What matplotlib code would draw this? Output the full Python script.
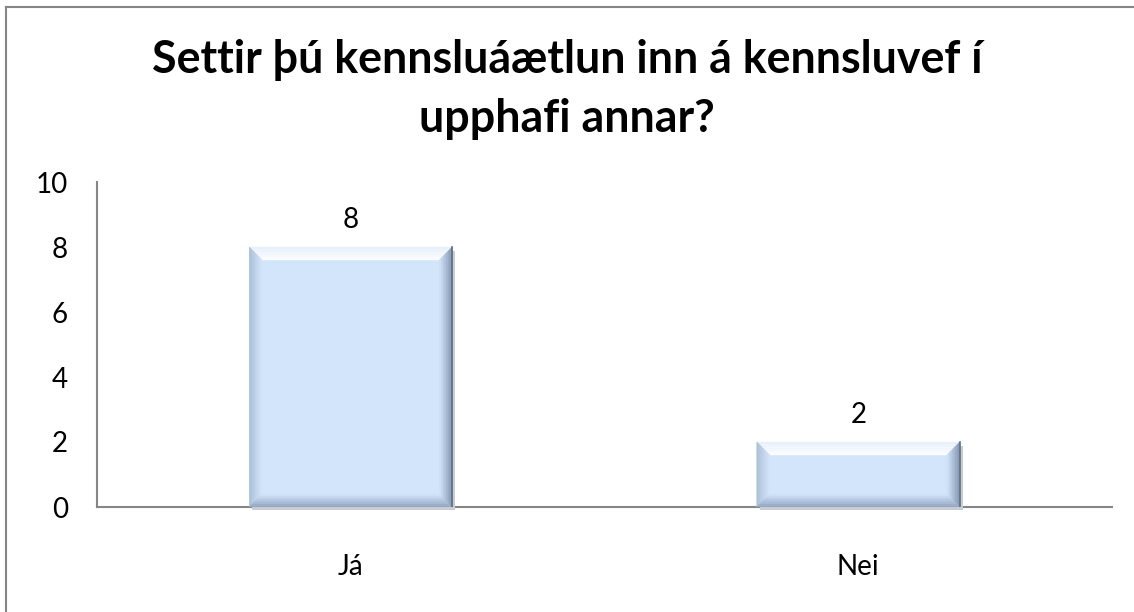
import matplotlib
matplotlib.use("Agg")
import matplotlib.pyplot as plt
from matplotlib.lines import Line2D
from matplotlib.patches import Polygon
from matplotlib.colors import to_rgb
import numpy as np

categories = ["Já", "Nei"]
values = [8, 2]
title_lines = ["Settir þú kennsluáætlun inn á kennsluvef í", "upphafi annar?"]

plt.rcParams['font.family'] = ['Lato', 'DejaVu Sans']

W, H = 1134, 612
fig = plt.figure(figsize=(W / 100, H / 100), dpi=100)

# outer chart frame: only top and left edges are inside the picture
frame = dict(color='#868686', linewidth=1.5, transform=fig.transFigure)
fig.add_artist(Line2D([6 / W, 1], [1 - 7 / H, 1 - 7 / H], **frame))
fig.add_artist(Line2D([6 / W, 6 / W], [0, 1 - 7 / H], **frame))

ax = fig.add_axes([97 / W, 105 / H, 1015 / W, 325 / H])
x = np.arange(len(categories))
bars = ax.bar(x, values, width=0.4, color='#D3E5FB', edgecolor='none', zorder=2)

ax.set_xlim(-0.5, len(categories) - 0.5)
ax.set_ylim(0, 10)
ax.set_yticks(range(0, 11, 2))
ax.set_xticks(x, categories)
ax.tick_params(axis='both', length=0, labelsize=20, colors='black')
ax.tick_params(axis='y', pad=21)
ax.tick_params(axis='x', pad=34)
for s in ['top', 'right']:
    ax.spines[s].set_visible(False)
for s in ['left', 'bottom']:
    ax.spines[s].set_color('#868686')
    ax.spines[s].set_linewidth(1.5)
    ax.spines[s].set_zorder(1)

# bevel shading: each band is a stack of thin trapezoids fading inward
px_x = len(categories) / 1015
px_y = 10.0 / 325


def band(outer, inner, c_out, c_in, n=8, z=3):
    c_out, c_in = np.array(to_rgb(c_out)), np.array(to_rgb(c_in))
    outer, inner = np.array(outer, float), np.array(inner, float)
    for i in range(n):
        t0, t1 = i / n, (i + 1) / n
        a = outer + (inner - outer) * t0
        b = outer + (inner - outer) * t1
        col = c_out + (c_in - c_out) * (t0 + t1) / 2
        ax.add_patch(Polygon([a[0], a[1], b[1], b[0]], closed=True,
                             facecolor=col, edgecolor=col, linewidth=0.3, zorder=z))


base = '#D3E5FB'
for r in bars:
    x0, y0 = r.get_x(), r.get_y()
    x1, y1 = x0 + r.get_width(), y0 + r.get_height()
    # soft drop shadow to the right and below
    ax.add_patch(Polygon([(x0 + 3 * px_x, y0 - 3 * px_y), (x1 + 3 * px_x, y0 - 3 * px_y),
                          (x1 + 3 * px_x, y1 - 4 * px_y), (x1, y1 - 4 * px_y),
                          (x1, y0), (x0 + 3 * px_x, y0)],
                         closed=True, facecolor='#C9CCD1', edgecolor='none',
                         zorder=1.5, clip_on=False))
    dx, dy = 13 * px_x, 13 * px_y
    ix0, ix1, iy0, iy1 = x0 + dx, x1 - dx, y0 + dy, y1 - dy
    band([(x0, y1), (x1, y1)], [(ix0, iy1), (ix1, iy1)], '#E6F0FB', '#FFFFFF')
    band([(x0, y1), (x0, y0)], [(ix0, iy1), (ix0, iy0)], '#A9BDD6', base)
    band([(x1, y1), (x1, y0)], [(ix1, iy1), (ix1, iy0)], '#7F93AE', base)
    band([(x0, y0), (x1, y0)], [(ix0, iy0), (ix1, iy0)], '#8FA3BE', base)
    ax.plot([x1, x1], [y0, y1], color='#5E6E84', linewidth=1.2, zorder=4)

ax.bar_label(bars, labels=[str(v) for v in values], padding=10, fontsize=20)

# title: two lines, first line scaled to span ~830 px like the original
t1 = fig.text(0.5, 1 - 73 / H, title_lines[0], ha='center', va='baseline',
              fontsize=30, fontweight='bold')
t2 = fig.text(0.5, 1 - 132 / H, title_lines[1], ha='center', va='baseline',
              fontsize=30, fontweight='bold')
renderer = fig.canvas.get_renderer()
w = t1.get_window_extent(renderer).width
size = 30 * 830 / w
t1.set_fontsize(size)
t2.set_fontsize(size)

fig.savefig('out.png', dpi=100)
